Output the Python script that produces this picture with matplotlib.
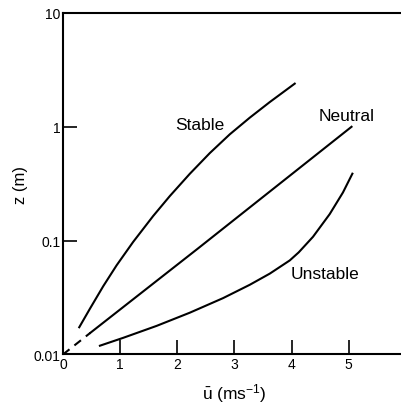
import matplotlib
matplotlib.use('Agg')
import matplotlib.pyplot as plt

plt.rcParams['font.family'] = ['Liberation Sans', 'DejaVu Sans']
plt.rcParams['mathtext.fontset'] = 'custom'
plt.rcParams['mathtext.rm'] = 'Liberation Sans'
plt.rcParams['mathtext.it'] = 'Liberation Sans'

# wind speed (m/s) and height (m) read from the profiles
u_stable = [0.285, 0.472, 0.705, 0.939, 1.229, 1.578, 1.871, 2.220,
            2.570, 2.920, 3.269, 3.619, 4.056]
z_stable = [0.01734, 0.02523, 0.0398, 0.0607, 0.0975, 0.1644, 0.2466, 0.3864,
            0.5875, 0.859, 1.202, 1.648, 2.393]

u_neutral_dash = [0.0, 0.48]
z_neutral_dash = [0.01, 0.0155]
u_neutral = [0.48, 2.365, 5.05]
z_neutral = [0.0155, 0.0855, 1.0]

u_unstable = [0.647, 1.054, 1.638, 2.220, 2.802, 3.269, 3.619, 3.969,
              4.126, 4.376, 4.668, 4.900, 5.065]
z_unstable = [0.01194, 0.0140, 0.01782, 0.02328, 0.03126, 0.04093, 0.05129, 0.0670,
              0.0789, 0.1081, 0.1710, 0.2649, 0.3873]

xticks = [0, 1, 2, 3, 4, 5, 6]
yticks = [0.01, 0.1, 1, 10]
ytick_labels = ['0.01', '0.1', '1', '10']

fig = plt.figure(figsize=(4.01, 4.10), dpi=100)
ax = fig.add_axes([0.157, 0.133, 0.855, 0.833])

kw = dict(color='black', lw=1.5, solid_joinstyle='round')
ax.plot(u_stable, z_stable, **kw)
ax.plot(u_neutral, z_neutral, **kw)
ax.plot(u_neutral_dash, z_neutral_dash, ls=(0, (4, 3)), **kw)
ax.plot(u_unstable, z_unstable, **kw)

ax.text(2.4, 1.05, 'Stable', fontsize=12.5, ha='center', va='center')
ax.text(4.96, 1.25, 'Neutral', fontsize=12.5, ha='center', va='center')
ax.text(4.58, 0.051, 'Unstable', fontsize=12.5, ha='center', va='center')

ax.set_yscale('log')
ax.set_xlim(0, 6)
ax.set_ylim(0.01, 10)
ax.set_xticks(xticks)
ax.set_xticklabels([str(t) for t in xticks])
ax.set_yticks(yticks)
ax.set_yticklabels(ytick_labels)
ax.minorticks_off()
ax.tick_params(direction='in', length=10, width=1.2, labelsize=10, pad=2)

for s in ['left', 'bottom', 'top', 'right']:
    ax.spines[s].set_linewidth(1.5)

ax.set_ylabel('z (m)', fontsize=12, labelpad=4)
ax.set_xlabel(r'$\bar{\mathrm{u}}\ (\mathrm{ms}^{-1})$', fontsize=12.5, labelpad=7)

fig.savefig('out.png', dpi=100)
